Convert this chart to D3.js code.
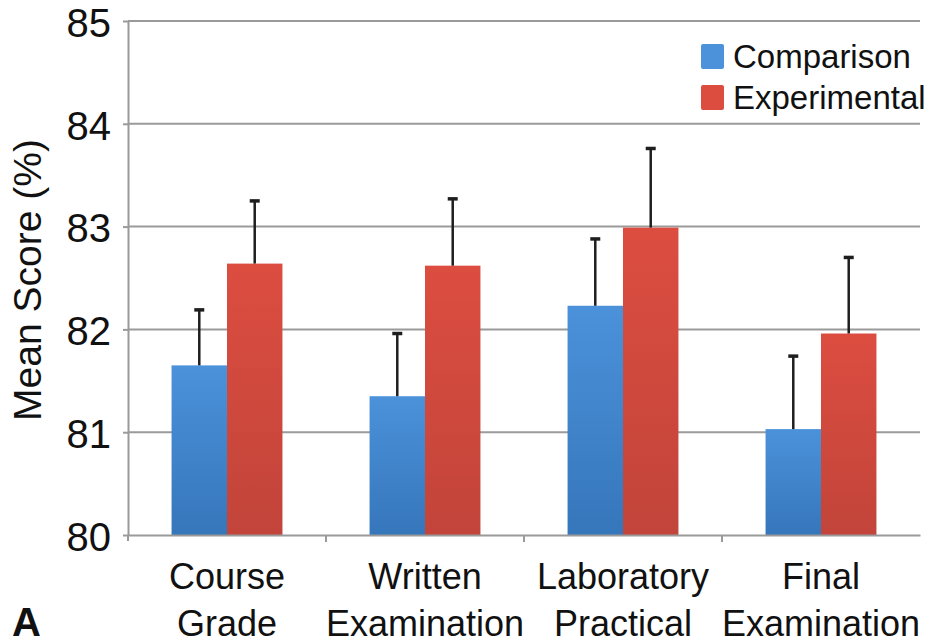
<!DOCTYPE html>
<html>
<head>
<meta charset="utf-8">
<script src="https://cdn.jsdelivr.net/npm/d3@7"></script>
<style>
  body { margin: 0; background: #fff; }
  svg { display: block; font-family: "Liberation Sans", Arial, Helvetica, sans-serif; }
</style>
</head>
<body>
<svg id="chart"></svg>
<script>
const categories = [["Course", "Grade"], ["Written", "Examination"], ["Laboratory", "Practical"], ["Final", "Examination"]];
const seriesNames = ["Comparison", "Experimental"];
const comparison = [81.65, 81.35, 82.23, 81.03];
const experimental = [82.64, 82.62, 82.99, 81.96];
const comparisonErr = [0.54, 0.61, 0.65, 0.71];
const experimentalErr = [0.61, 0.65, 0.77, 0.74];
const yTicks = [80, 81, 82, 83, 84, 85];

const width = 932, height = 644;
const plot = { left: 128, right: 920, top: 21, bottom: 535 };

const svg = d3.select("#chart").attr("width", width).attr("height", height);

const rows = categories.map((c, i) => ({
    key: i,
    vals: [
        { s: 0, v: comparison[i], e: comparisonErr[i] },
        { s: 1, v: experimental[i], e: experimentalErr[i] }
    ]
}));

const x0 = d3.scaleBand()
    .domain(d3.range(categories.length))
    .range([plot.left, plot.right])
    .paddingInner(0.44)
    .paddingOuter(0.22);

const x1 = d3.scaleBand()
    .domain([0, 1])
    .range([0, x0.bandwidth()]);

const y = d3.scaleLinear()
    .domain([80, 85])
    .range([plot.bottom, plot.top]);

// gradients like the office-style bars
const defs = svg.append("defs");
const grads = [["#4b92da", "#3676bb"], ["#dc4d40", "#c2443a"]];
grads.forEach((g, i) => {
    const lg = defs.append("linearGradient").attr("id", "g" + i)
        .attr("x1", 0).attr("y1", 0).attr("x2", 0).attr("y2", 1);
    lg.append("stop").attr("offset", "0%").attr("stop-color", g[0]);
    lg.append("stop").attr("offset", "100%").attr("stop-color", g[1]);
});

// gridlines
svg.append("g")
    .selectAll("line")
    .data(yTicks.slice(1))
    .join("line")
    .attr("x1", plot.left).attr("x2", plot.right)
    .attr("y1", d => y(d)).attr("y2", d => y(d))
    .attr("stroke", "#9a9a9a")
    .attr("stroke-width", 2);

// y axis
const yAxis = svg.append("g")
    .attr("transform", `translate(${plot.left},0)`)
    .call(d3.axisLeft(y).tickValues(yTicks).tickFormat(d3.format("d"))
        .tickSize(5).tickSizeOuter(0).tickPadding(12));
yAxis.select(".domain").attr("stroke", "#9a9a9a").attr("stroke-width", 2);
yAxis.selectAll(".tick line").attr("stroke", "#9a9a9a").attr("stroke-width", 2);
yAxis.selectAll(".tick text")
    .attr("font-size", 40)
    .attr("fill", "#111")
    .attr("font-family", "Liberation Sans, Arial, sans-serif")
    .attr("dy", "0.38em");

// bars
const groups = svg.append("g")
    .selectAll("g")
    .data(rows)
    .join("g")
    .attr("transform", d => `translate(${x0(d.key)},0)`);

groups.selectAll("rect")
    .data(d => d.vals)
    .join("rect")
    .attr("x", d => x1(d.s))
    .attr("y", d => y(d.v))
    .attr("width", x1.bandwidth())
    .attr("height", d => y(80) - y(d.v))
    .attr("fill", d => `url(#g${d.s})`);

// error bars (upper only)
groups.selectAll("line.err")
    .data(d => d.vals)
    .join("line")
    .attr("class", "err")
    .attr("x1", d => x1(d.s) + x1.bandwidth() / 2)
    .attr("x2", d => x1(d.s) + x1.bandwidth() / 2)
    .attr("y1", d => y(d.v))
    .attr("y2", d => y(d.v + d.e))
    .attr("stroke", "#1e1e1e")
    .attr("stroke-width", 2.5);

groups.selectAll("line.cap")
    .data(d => d.vals)
    .join("line")
    .attr("class", "cap")
    .attr("x1", d => x1(d.s) + x1.bandwidth() / 2 - 5)
    .attr("x2", d => x1(d.s) + x1.bandwidth() / 2 + 5)
    .attr("y1", d => y(d.v + d.e))
    .attr("y2", d => y(d.v + d.e))
    .attr("stroke", "#1e1e1e")
    .attr("stroke-width", 3.5);

// x axis
const xAxis = svg.append("g")
    .attr("transform", `translate(0,${plot.bottom})`)
    .call(d3.axisBottom(x0).tickSize(0).tickSizeOuter(0).tickFormat(""));
xAxis.select(".domain").attr("stroke", "#9a9a9a").attr("stroke-width", 2);

// separators between categories
xAxis.append("g")
    .selectAll("line")
    .data(d3.range(1, categories.length))
    .join("line")
    .attr("x1", i => plot.left + x0.step() * i)
    .attr("x2", i => plot.left + x0.step() * i)
    .attr("y1", 0).attr("y2", 7)
    .attr("stroke", "#9a9a9a")
    .attr("stroke-width", 2);

xAxis.append("line")
    .attr("x1", plot.left).attr("x2", plot.left)
    .attr("y1", 0).attr("y2", 6)
    .attr("stroke", "#9a9a9a").attr("stroke-width", 2);

const labels = svg.append("g")
    .selectAll("text")
    .data(categories)
    .join("text")
    .attr("text-anchor", "middle")
    .attr("font-size", 36)
    .attr("fill", "#111")
    .attr("transform", (d, i) => `translate(${x0(i) + x0.bandwidth() / 2},0)`);

labels.selectAll("tspan")
    .data(d => d)
    .join("tspan")
    .attr("x", 0)
    .attr("y", (d, j) => 589 + j * 47)
    .text(d => d);

// y label
svg.append("text")
    .attr("transform", "translate(41,280) rotate(-90)")
    .attr("text-anchor", "middle")
    .attr("font-size", 39)
    .attr("fill", "#111")
    .text("Mean Score (%)");

// legend
const legend = svg.append("g").attr("transform", "translate(701,44)");
const li = legend.selectAll("g")
    .data(seriesNames)
    .join("g")
    .attr("transform", (d, i) => `translate(0,${i * 41})`);
li.append("rect")
    .attr("width", 23).attr("height", 25)
    .attr("rx", 2)
    .attr("fill", (d, i) => grads[i][0]);
li.append("text")
    .attr("x", 32).attr("y", 24)
    .attr("font-size", 33)
    .attr("fill", "#111")
    .text(d => d);

// panel letter
svg.append("text")
    .attr("x", 12).attr("y", 636)
    .attr("font-size", 40)
    .attr("font-weight", "bold")
    .attr("fill", "#111")
    .text("A");
</script>
</body>
</html>
